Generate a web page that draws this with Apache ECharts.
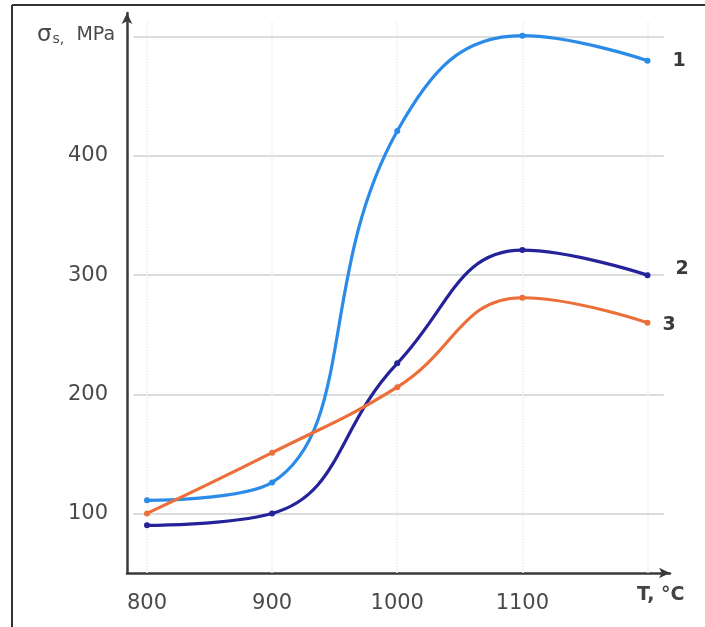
<!DOCTYPE html>
<html>
<head>
<meta charset="utf-8">
<script src="https://cdn.jsdelivr.net/npm/echarts@6/dist/echarts.min.js"></script>
<style>html,body{margin:0;padding:0;background:#fff}#c{width:705px;height:627px}</style>
</head>
<body>
<div id="c"></div>
<script>
const temps = [800, 900, 1000, 1100, 1200];
const s1 = [111, 126, 421, 501, 480];
const s2 = [90, 100, 226, 321, 300];
const s3 = [100, 151, 206, 281, 260];
const seriesNames = ['1', '2', '3'];
const xTickLabels = [800, 900, 1000, 1100];
const yTickLabels = [100, 200, 300, 400];
const yGridValues = [100, 200, 300, 400, 500];

const colors = ['#2b8be9', '#24239a', '#ec6f3a'];
const labelOffsets = [[22, 0], [25, -6], [12, 2]];

function pairs(vals) { return temps.map((t, i) => [t, vals[i]]); }

function mkSeries(vals, idx) {
  const d = pairs(vals);
  const last = d.length - 1;
  return {
    type: 'line', name: seriesNames[idx], smooth: 0.45,
    data: d.map((p, i) => i === last ? {
      value: p,
      label: {
        show: true, position: 'right', distance: labelOffsets[idx][0],
        offset: [0, labelOffsets[idx][1]],
        formatter: seriesNames[idx], fontFamily: 'DejaVu Sans', fontWeight: 'bold',
        fontSize: 19, color: '#3a3a3a'
      }
    } : p),
    symbol: 'circle', symbolSize: 6,
    lineStyle: { color: colors[idx], width: 3.2 },
    itemStyle: { color: colors[idx] },
    z: 5
  };
}

const gridLines = {
  type: 'line', data: [], silent: true,
  markLine: {
    symbol: 'none', silent: true, label: { show: false },
    data: yGridValues.map(v => [{ coord: [789, v], lineStyle: { color: '#dcdcdc', width: 2, type: 'solid' } }, { coord: [1213, v] }])
      .concat(temps.map(t => [{ coord: [t, 50], lineStyle: { color: '#ececec', width: 1.5, type: 'dotted' } }, { coord: [t, 512] }]))
  },
  z: 1
};

const chart = echarts.init(document.getElementById('c'));
chart.setOption({
  animation: false,
  backgroundColor: '#fff',
  grid: { left: 127, right: 35, top: 13, bottom: 54 },
  title: {
    left: 32, top: 19,
    text: '{a|σ}{b|s,}{c|  MPa}',
    textStyle: {
      fontWeight: 'normal',
      rich: {
        a: { fontFamily: 'DejaVu Sans', fontSize: 23, color: '#4a4a4a', fontWeight: 'normal' },
        b: { fontFamily: 'DejaVu Sans', fontSize: 14, color: '#4a4a4a', fontWeight: 'normal', padding: [8, 0, 0, 1] },
        c: { fontFamily: 'DejaVu Sans', fontSize: 19, color: '#4a4a4a', fontWeight: 'normal' }
      }
    }
  },
  xAxis: {
    type: 'value', min: 784, max: 1218,
    axisLine: { show: true, symbol: ['none', 'arrow'], symbolSize: [8, 11], lineStyle: { color: '#3a3a3a', width: 2.5 } },
    axisTick: { show: false },
    splitLine: { show: false },
    axisLabel: { customValues: xTickLabels, formatter: v => String(v), fontFamily: 'DejaVu Sans', fontSize: 21, color: '#4a4a4a', margin: 20 }
  },
  yAxis: {
    type: 'value', min: 50, max: 520,
    axisLine: { show: true, symbol: ['none', 'arrow'], symbolSize: [8, 11], lineStyle: { color: '#3a3a3a', width: 2.5 } },
    axisTick: { show: false },
    splitLine: { show: false },
    axisLabel: { customValues: yTickLabels, formatter: v => String(v), fontFamily: 'DejaVu Sans', fontSize: 21, color: '#4a4a4a', margin: 19 }
  },
  graphic: [
    { type: 'line', shape: { x1: 12, y1: 5, x2: 705, y2: 5 }, style: { stroke: '#333', lineWidth: 2 } },
    { type: 'line', shape: { x1: 12, y1: 5, x2: 12, y2: 627 }, style: { stroke: '#333', lineWidth: 2 } },
    { type: 'text', left: 637, top: 586, style: { text: 'T, °C', font: 'bold 19px "DejaVu Sans"', fill: '#444' } }
  ],
  series: [gridLines, mkSeries(s1, 0), mkSeries(s2, 1), mkSeries(s3, 2)]
});
</script>
</body>
</html>
